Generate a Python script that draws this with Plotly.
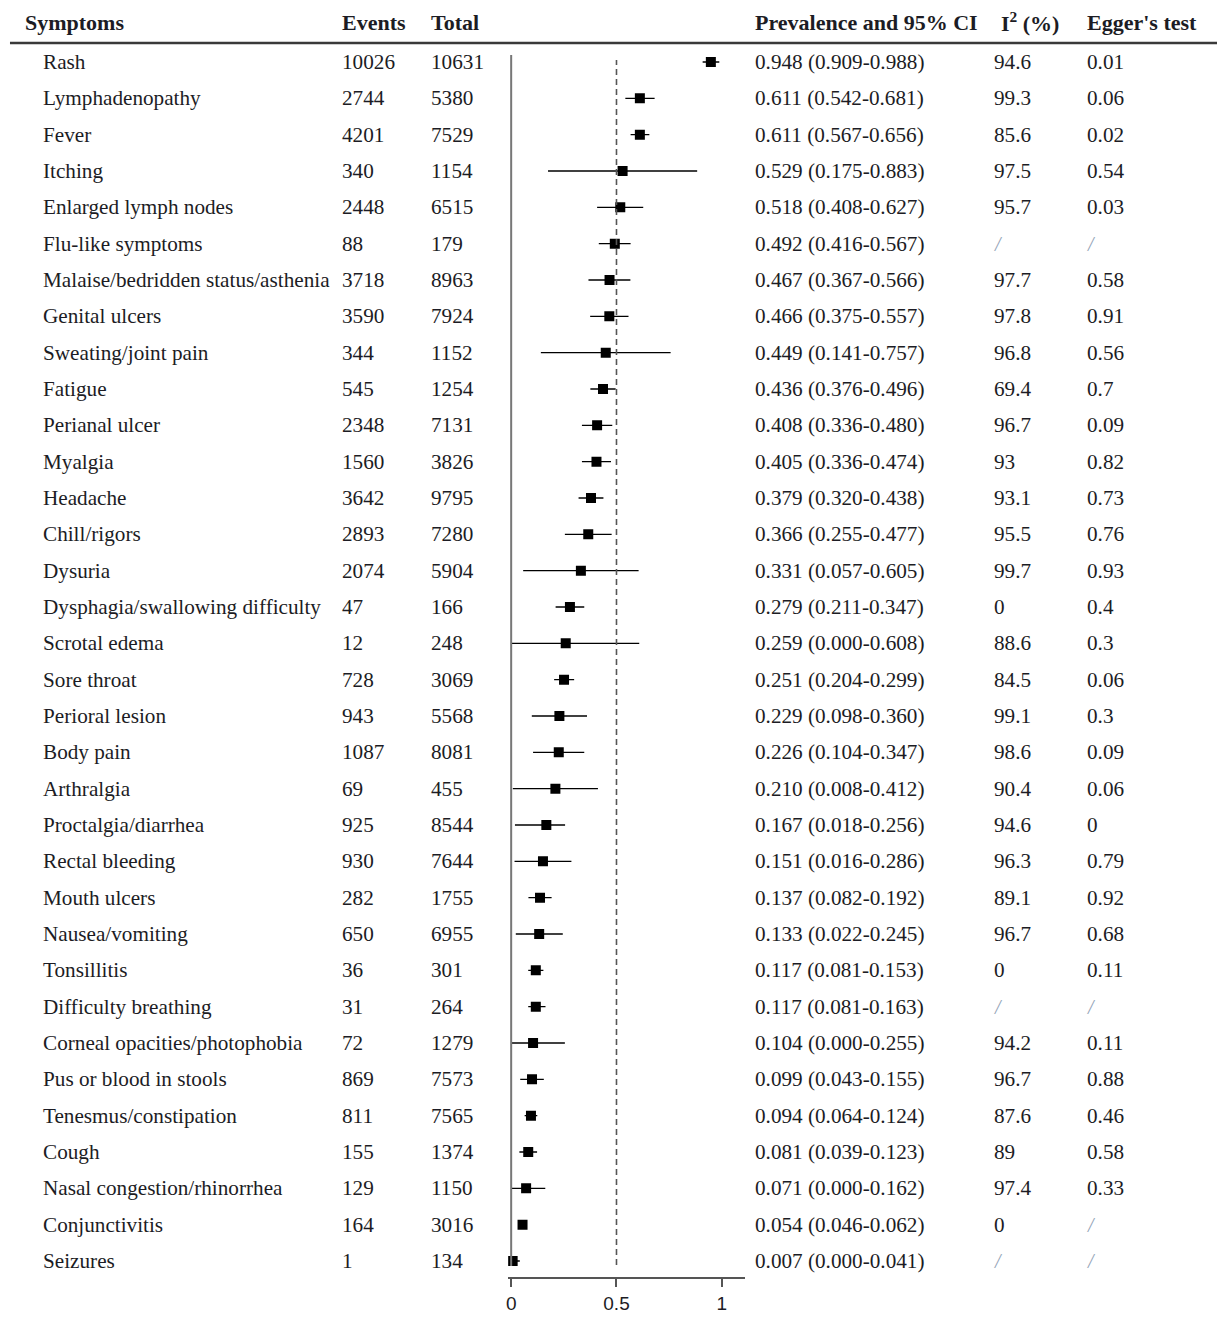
import plotly.graph_objects as go

# ---- data ----
symptoms = [
    "Rash", "Lymphadenopathy", "Fever", "Itching", "Enlarged lymph nodes",
    "Flu-like symptoms", "Malaise/bedridden status/asthenia", "Genital ulcers",
    "Sweating/joint pain", "Fatigue", "Perianal ulcer", "Myalgia", "Headache",
    "Chill/rigors", "Dysuria", "Dysphagia/swallowing difficulty", "Scrotal edema",
    "Sore throat", "Perioral lesion", "Body pain", "Arthralgia", "Proctalgia/diarrhea",
    "Rectal bleeding", "Mouth ulcers", "Nausea/vomiting", "Tonsillitis",
    "Difficulty breathing", "Corneal opacities/photophobia", "Pus or blood in stools",
    "Tenesmus/constipation", "Cough", "Nasal congestion/rhinorrhea",
    "Conjunctivitis", "Seizures",
]
events = [10026, 2744, 4201, 340, 2448, 88, 3718, 3590, 344, 545, 2348, 1560, 3642,
          2893, 2074, 47, 12, 728, 943, 1087, 69, 925, 930, 282, 650, 36, 31, 72,
          869, 811, 155, 129, 164, 1]
totals = [10631, 5380, 7529, 1154, 6515, 179, 8963, 7924, 1152, 1254, 7131, 3826, 9795,
          7280, 5904, 166, 248, 3069, 5568, 8081, 455, 8544, 7644, 1755, 6955, 301, 264,
          1279, 7573, 7565, 1374, 1150, 3016, 134]
prevalence = [0.948, 0.611, 0.611, 0.529, 0.518, 0.492, 0.467, 0.466, 0.449, 0.436,
              0.408, 0.405, 0.379, 0.366, 0.331, 0.279, 0.259, 0.251, 0.229, 0.226,
              0.210, 0.167, 0.151, 0.137, 0.133, 0.117, 0.117, 0.104, 0.099, 0.094,
              0.081, 0.071, 0.054, 0.007]
ci_low = [0.909, 0.542, 0.567, 0.175, 0.408, 0.416, 0.367, 0.375, 0.141, 0.376,
          0.336, 0.336, 0.320, 0.255, 0.057, 0.211, 0.000, 0.204, 0.098, 0.104,
          0.008, 0.018, 0.016, 0.082, 0.022, 0.081, 0.081, 0.000, 0.043, 0.064,
          0.039, 0.000, 0.046, 0.000]
ci_high = [0.988, 0.681, 0.656, 0.883, 0.627, 0.567, 0.566, 0.557, 0.757, 0.496,
           0.480, 0.474, 0.438, 0.477, 0.605, 0.347, 0.608, 0.299, 0.360, 0.347,
           0.412, 0.256, 0.286, 0.192, 0.245, 0.153, 0.163, 0.255, 0.155, 0.124,
           0.123, 0.162, 0.062, 0.041]
i2 = ["94.6", "99.3", "85.6", "97.5", "95.7", "/", "97.7", "97.8", "96.8", "69.4",
      "96.7", "93", "93.1", "95.5", "99.7", "0", "88.6", "84.5", "99.1", "98.6",
      "90.4", "94.6", "96.3", "89.1", "96.7", "0", "/", "94.2", "96.7", "87.6",
      "89", "97.4", "0", "/"]
egger = ["0.01", "0.06", "0.02", "0.54", "0.03", "/", "0.58", "0.91", "0.56", "0.7",
         "0.09", "0.82", "0.73", "0.76", "0.93", "0.4", "0.3", "0.06", "0.3", "0.09",
         "0.06", "0", "0.79", "0.92", "0.68", "0.11", "/", "0.11", "0.88", "0.46",
         "0.58", "0.33", "/", "/"]
x_ticks = [0, 0.5, 1]
x_tick_labels = ["0", "0.5", "1"]
headers = ["Symptoms", "Events", "Total", "Prevalence and 95% CI", "I<sup>2</sup> (%)", "Egger's test"]

# ---- layout geometry (pixels) ----
W, H = 1217, 1318
row_top, row_step = 62, (1261 - 62) / 33
n = len(symptoms)
rows = list(range(n))

def py(p):
    return 1 - p / H

y_range = [(H - row_top) / row_step, -row_top / row_step]
header_row = (22 - row_top) / row_step

FONT = "Liberation Serif, Times New Roman, serif"
TXT = "#1c1c24"
SLASH = "#93a3b8"

fig = go.Figure()

fig.add_trace(go.Scatter(
    x=prevalence, y=rows, mode="markers",
    marker=dict(symbol="square", size=10, color="black"),
    error_x=dict(type="data", symmetric=False,
                 array=[h - p for h, p in zip(ci_high, prevalence)],
                 arrayminus=[p - l for p, l in zip(prevalence, ci_low)],
                 color="black", thickness=1.4, width=0),
    hoverinfo="skip", showlegend=False,
))

ann = []

def text(xpx, y, s, bold=False, color=TXT, size=21.2, italic=False):
    if bold:
        s = f"<b>{s}</b>"
    if italic:
        s = f"<i>{s}</i>"
    ann.append(dict(x=xpx / W, y=y, xref="paper", yref="y", text=s, showarrow=False,
                    xanchor="left", yanchor="middle", borderpad=0, xshift=-3,
                    font=dict(family=FONT, size=size, color=color)))

# column headers
for xpx, h in zip([25, 343, 432, 756, 1003, 1089], headers):
    text(xpx, header_row, h, bold=True, size=22)

# table body
for i in rows:
    text(43, i, symptoms[i])
    text(343, i, str(events[i]))
    text(432, i, str(totals[i]))
    text(756, i, f"{prevalence[i]:.3f} ({ci_low[i]:.3f}-{ci_high[i]:.3f})")
    for xpx, v in ((996, i2[i]), (1089, egger[i])):
        if v == "/":
            text(xpx, i, "/", color=SLASH, size=20, italic=True)
        else:
            text(xpx, i, v)

shapes = [
    # header rule
    dict(type="line", xref="paper", yref="paper", x0=8 / W, x1=1, y0=py(43), y1=py(43),
         line=dict(color="#3a3a3a", width=2.5)),
    # zero line
    dict(type="line", xref="x", yref="paper", x0=0, x1=0, y0=py(1266), y1=py(55),
         line=dict(color="#777777", width=2)),
    # reference line at 0.5
    dict(type="line", xref="x", yref="paper", x0=0.5, x1=0.5, y0=py(1265), y1=py(60),
         line=dict(color="#555555", width=1.6, dash="6px,4px")),
]

x0_px, x1_px = 507, 744
unit = 211
fig.update_layout(
    width=W, height=H, margin=dict(l=0, r=0, t=0, b=0),
    paper_bgcolor="white", plot_bgcolor="white",
    annotations=ann, shapes=shapes, showlegend=False,
    xaxis=dict(domain=[x0_px / W, x1_px / W],
               range=[(x0_px - 510) / unit, (x1_px - 510) / unit],
               anchor="free", position=py(1278),
               showline=True, linecolor="#555555", linewidth=2,
               ticks="outside", ticklen=8, tickwidth=2, tickcolor="#555555",
               tickvals=x_ticks, ticktext=x_tick_labels,
               tickfont=dict(family="Liberation Sans, Arial, sans-serif", size=19, color=TXT),
               showgrid=False, zeroline=False, fixedrange=True),
    yaxis=dict(domain=[0, 1], range=y_range, visible=False, fixedrange=True),
)

fig.write_html("out.html")
